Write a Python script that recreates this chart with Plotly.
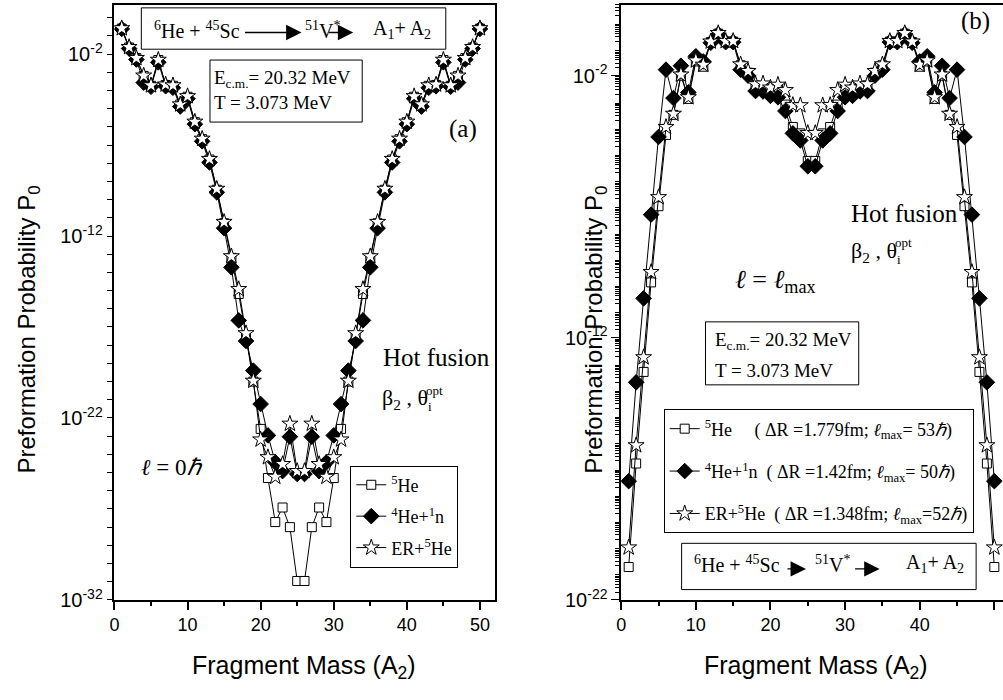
import plotly.graph_objects as go

W, H = 1003, 700
SERIF = "Liberation Serif, Times New Roman, serif"
SANS = "Liberation Sans, Arial, sans-serif"

# Fragment mass A2
fragment_mass = list(range(1, 51))

# ---- Panel (a): l = 0 hbar, preformation probability P0 ----
p0_a_5he = [2.5e-1, 2.3e-2, 6.0e-3, 6.3e-4, 1.8e-4, 4.7e-3, 2.0e-4, 1.8e-4, 1.7e-5, 4.5e-5,
            1.8e-6, 2.1e-7, 1.6e-8, 3.5e-10, 5.0e-12, 6.3e-14, 6.5e-16, 3.1e-18, 1.0e-20, 2.5e-23,
            5.0e-26, 1.9e-28, 1.2e-27, 1.0e-28, 1.1e-31, 1.1e-31, 1.0e-28, 1.2e-27, 1.9e-28, 5.0e-26,
            2.5e-23, 1.0e-20, 3.1e-18, 6.5e-16, 6.3e-14, 5.0e-12, 3.5e-10, 1.6e-8, 2.1e-7, 1.8e-6,
            4.5e-5, 1.7e-5, 1.8e-4, 2.0e-4, 4.7e-3, 1.8e-4, 6.3e-4, 6.0e-3, 2.3e-2, 2.5e-1]
p0_a_4he_1n = [2.4e-1, 2.0e-2, 5.0e-3, 2.7e-4, 1.6e-4, 3.5e-3, 1.7e-4, 1.4e-4, 1.3e-5, 3.5e-5,
               1.4e-6, 1.6e-7, 1.1e-8, 2.5e-10, 2.7e-12, 1.9e-14, 2.3e-17, 1.7e-18, 4.0e-20, 5.8e-22,
               1.1e-23, 3.7e-25, 1.2e-25, 9.3e-24, 8.3e-26, 8.3e-26, 9.3e-24, 1.2e-25, 3.7e-25, 1.1e-23,
               5.8e-22, 4.0e-20, 1.7e-18, 2.3e-17, 1.9e-14, 2.7e-12, 2.5e-10, 1.1e-8, 1.6e-7, 1.4e-6,
               3.5e-5, 1.3e-5, 1.4e-4, 1.7e-4, 3.5e-3, 1.6e-4, 2.7e-4, 5.0e-3, 2.0e-2, 2.4e-1]
p0_a_er_5he = [2.6e-1, 2.4e-2, 6.0e-3, 6.5e-4, 1.9e-4, 4.8e-3, 2.1e-4, 1.9e-4, 1.7e-5, 4.8e-5,
               1.9e-6, 2.2e-7, 1.7e-8, 3.9e-10, 5.9e-12, 7.6e-14, 1.2e-15, 4.5e-18, 1.1e-20, 6.5e-24,
               6.9e-25, 5.8e-26, 2.9e-25, 4.8e-23, 1.2e-25, 1.2e-25, 4.8e-23, 2.9e-25, 5.8e-26, 6.9e-25,
               6.5e-24, 1.1e-20, 4.5e-18, 1.2e-15, 7.6e-14, 5.9e-12, 3.9e-10, 1.7e-8, 2.2e-7, 1.9e-6,
               4.8e-5, 1.7e-5, 1.9e-4, 2.1e-4, 4.8e-3, 1.9e-4, 6.5e-4, 6.0e-3, 2.4e-2, 2.6e-1]

# ---- Panel (b): l = l_max ----
p0_b_5he = [1.8e-21, 1.6e-17, 5.0e-14, 1.3e-10, 1.05e-7, 5.5e-5, 3.2e-4, 1.0e-2, 1.3e-3, 3.5e-2,
            2.2e-2, 1.9e-1, 4.0e-1, 2.0e-1, 2.0e-1, 2.5e-2, 1.3e-2, 4.2e-3, 4.0e-3, 3.2e-3,
            3.5e-3, 7.9e-4, 1.1e-4, 6.3e-5, 5.6e-6, 5.6e-6, 6.3e-5, 1.1e-4, 7.9e-4, 3.5e-3,
            3.2e-3, 4.0e-3, 4.2e-3, 1.3e-2, 2.5e-2, 2.0e-1, 2.0e-1, 4.0e-1, 1.9e-1, 2.2e-2,
            3.5e-2, 1.3e-3, 1.0e-2, 3.2e-4, 5.5e-5, 1.05e-7, 1.3e-10, 5.0e-14, 1.6e-17, 1.8e-21]
p0_b_4he_1n = [3.4e-18, 2.0e-14, 3.2e-11, 5.0e-8, 4.6e-5, 1.7e-2, 1.4e-3, 2.4e-2, 2.3e-3, 5.5e-2,
               3.5e-2, 1.8e-1, 3.8e-1, 1.9e-1, 1.9e-1, 1.7e-2, 1.0e-2, 2.6e-3, 2.5e-3, 1.7e-3,
               1.5e-3, 4.5e-4, 6.3e-5, 3.4e-5, 3.5e-6, 3.5e-6, 3.4e-5, 6.3e-5, 4.5e-4, 1.5e-3,
               1.7e-3, 2.5e-3, 2.6e-3, 1.0e-2, 1.7e-2, 1.9e-1, 1.9e-1, 3.8e-1, 1.8e-1, 3.5e-2,
               5.5e-2, 2.3e-3, 2.4e-2, 1.4e-3, 1.7e-2, 4.6e-5, 5.0e-8, 3.2e-11, 2.0e-14, 3.4e-18]
p0_b_er_5he = [1.0e-20, 7.9e-17, 1.8e-13, 3.2e-10, 2.3e-7, 1.1e-4, 3.5e-4, 1.1e-2, 1.5e-3, 3.8e-2,
               2.6e-2, 2.0e-1, 4.2e-1, 2.1e-1, 2.1e-1, 2.7e-2, 1.5e-2, 4.7e-3, 5.0e-3, 3.5e-3,
               4.5e-3, 2.8e-3, 7.6e-4, 7.4e-4, 6.5e-5, 6.5e-5, 7.4e-4, 7.6e-4, 2.8e-3, 4.5e-3,
               3.5e-3, 5.0e-3, 4.7e-3, 1.5e-2, 2.7e-2, 2.1e-1, 2.1e-1, 4.2e-1, 2.0e-1, 2.6e-2,
               3.8e-2, 1.5e-3, 1.1e-2, 3.5e-4, 1.1e-4, 2.3e-7, 3.2e-10, 1.8e-13, 7.9e-17, 1.0e-20]

# Legend names
names_a = ["<sup>5</sup>He", "<sup>4</sup>He+<sup>1</sup>n", "ER+<sup>5</sup>He"]
names_b = [
    "<sup>5</sup>He\u00a0\u00a0\u00a0\u00a0\u00a0( \u0394R =1.779fm; <i>\u2113</i><sub>max</sub>= 53<i>\u210f</i>)",
    "<sup>4</sup>He+<sup>1</sup>n\u00a0 ( \u0394R =1.42fm; <i>\u2113</i><sub>max</sub>= 50<i>\u210f</i>)",
    "ER+<sup>5</sup>He\u00a0 ( \u0394R =1.348fm; <i>\u2113</i><sub>max</sub>=52<i>\u210f</i>)",
]

# Axis ticks
x_tick_vals = [0, 10, 20, 30, 40, 50]
x_tick_text = ["0", "10", "20", "30", "40", "50"]
y_label_vals_a = [1e-32, 1e-22, 1e-12, 1e-2]
y_label_text_a = ["10<sup>-32</sup>", "10<sup>-22</sup>", "10<sup>-12</sup>", "10<sup>-2</sup>"]
y_label_vals_b = [1e-22, 1e-12, 1e-2]
y_label_text_b = ["10<sup>-22</sup>", "10<sup>-12</sup>", "10<sup>-2</sup>"]

# unlabelled tick positions: every decade, plus 2..9 sub-decades on panel (b)
ya_decades = [10.0 ** e for e in range(-32, 1) if 10.0 ** e not in y_label_vals_a]
yb_decades = [10.0 ** e for e in range(-22, 1)]
yb_subdecades = [m * 10.0 ** e for e in range(-22, 1) for m in range(2, 10) if m * 10.0 ** e <= 5.0]


def px(x):
    return x / W


def py(y):
    return 1 - y / H


styles = [
    dict(symbol="square", size=9, color="white"),
    dict(symbol="diamond", size=12, color="black"),
    dict(symbol="star", size=12, color="white"),
]

fig = go.Figure()
for data, name, st, i in zip([p0_a_5he, p0_a_4he_1n, p0_a_er_5he], names_a, styles, range(3)):
    fig.add_trace(go.Scatter(
        x=fragment_mass, y=data, name=name, mode="lines+markers",
        line=dict(color="black", width=1),
        marker=dict(symbol=st["symbol"], size=st["size"], color=st["color"],
                    line=dict(color="black", width=1)),
        xaxis="x", yaxis="y", legend="legend", legendgroup=f"a{i}"))
for data, name, st, i in zip([p0_b_5he, p0_b_4he_1n, p0_b_er_5he], names_b, styles, range(3)):
    fig.add_trace(go.Scatter(
        x=fragment_mass, y=data, name=name, mode="lines+markers",
        line=dict(color="black", width=1),
        marker=dict(symbol=st["symbol"], size=st["size"], color=st["color"],
                    line=dict(color="black", width=1)),
        xaxis="x2", yaxis="y2", legend="legend2", legendgroup=f"b{i}"))

y_dom = [py(609.5), py(5)]
common_x = dict(showline=True, linecolor="black", linewidth=1.5, ticks="outside",
                tickmode="array", tickvals=x_tick_vals, ticktext=x_tick_text,
                ticklen=8, tickwidth=1.5, tickcolor="black",
                minor=dict(dtick=5, tick0=0, ticks="outside", ticklen=4, tickwidth=1.5, tickcolor="black"),
                tickfont=dict(family=SANS, size=18, color="black"),
                showgrid=False, zeroline=False)
common_y = dict(type="log", showline=True, linecolor="black", linewidth=1.5, ticks="outside",
                tickmode="array", tickwidth=1.2, tickcolor="black",
                tickfont=dict(family=SANS, size=20, color="black"),
                showgrid=False, zeroline=False)

fig.update_layout(
    width=W, height=H, margin=dict(l=0, r=0, t=0, b=0),
    paper_bgcolor="white", plot_bgcolor="white",
    xaxis=dict(domain=[px(110), px(492)], range=[0, 52], anchor="y", mirror=True, **common_x),
    yaxis=dict(domain=y_dom, range=[-32, 0.7], anchor="x", mirror=True,
               tickvals=y_label_vals_a, ticktext=y_label_text_a, ticklen=6,
               minor=dict(tickmode="array", tickvals=ya_decades, ticks="outside", ticklen=6,
                          tickwidth=1.2, tickcolor="black"),
               **common_y),
    xaxis2=dict(domain=[px(619.3), 1.0], range=[0, (W - 619.3) / 7.5], anchor="y2", mirror=True, **common_x),
    yaxis2=dict(domain=y_dom, range=[-22, 0.7], anchor="x2", mirror=False,
                tickvals=y_label_vals_b, ticktext=y_label_text_b, ticklen=8,
                minor=dict(tickmode="array", tickvals=yb_subdecades, ticks="outside", ticklen=4,
                           tickwidth=1, tickcolor="black"),
                **common_y),
    # decade ticks of panel (b) without labels
    yaxis3=dict(type="log", overlaying="y2", anchor="x2", side="left", range=[-22, 0.7],
                showline=False, showticklabels=False, showgrid=False, zeroline=False,
                tickmode="array", tickvals=yb_decades, ticks="outside", ticklen=8,
                tickwidth=1.2, tickcolor="black"),
    legend=dict(x=px(347), y=py(473), xanchor="left", yanchor="top", bgcolor="white",
                bordercolor="black", borderwidth=1, font=dict(family=SERIF, size=18, color="black"),
                tracegroupgap=5, traceorder="grouped", itemwidth=30),
    legend2=dict(x=px(662), y=py(416), xanchor="left", yanchor="top", bgcolor="white",
                 bordercolor="black", borderwidth=1, font=dict(family=SERIF, size=18, color="black"),
                 tracegroupgap=16, traceorder="grouped", itemwidth=30),
    showlegend=True,
)

annotations = []


def text(x, y, s, size, family=SERIF, xanchor="left", yanchor="middle", angle=0):
    annotations.append(dict(x=px(x), y=py(y), xref="paper", yref="paper", text=s, showarrow=False,
                            xanchor=xanchor, yanchor=yanchor, textangle=angle,
                            font=dict(family=family, size=size, color="black")))


def arrow(x0, x1, y):
    annotations.append(dict(x=px(x1), y=py(y), xref="paper", yref="paper", ax=-(x1 - x0), ay=0,
                            axref="pixel", ayref="pixel", text="", showarrow=True,
                            arrowhead=2, arrowsize=2.2, arrowwidth=1.4, arrowcolor="black"))


shapes = []


def box(x0, y0, x1, y1):
    shapes.append(dict(type="rect", xref="paper", yref="paper", x0=px(x0), x1=px(x1),
                       y0=py(y1), y1=py(y0), line=dict(color="black", width=1)))


# Axis titles
text(24, 335, "Preformation Probability P<sub>0</sub>", 24, SANS, "center", "middle", -90)
text(594, 335, "Preformation Probability P<sub>0</sub>", 24, SANS, "center", "middle", -90)
text(301, 678, "Fragment Mass (A<sub>2</sub>)", 25, SANS, "center", "middle")
text(815, 678, "Fragment Mass (A<sub>2</sub>)", 25, SANS, "center", "middle")

# Panel (a) annotations
box(137, 8, 443, 50)
text(148, 30, "<sup>6</sup>He + <sup>45</sup>Sc", 20)
arrow(240, 298, 33)
text(299, 30, "<sup>51</sup>V<sup>*</sup>", 20)
arrow(324, 350, 33)
text(368, 30, "A<sub>1</sub>+ A<sub>2</sub>", 20)
box(206, 61, 359, 124)
text(208, 80, "E<sub>c.m.</sub>= 20.32 MeV", 19)
text(208, 104, "T = 3.073 MeV", 19)
text(460, 131, "(a)", 25, SERIF, "center")
text(378, 363, "Hot fusion", 25)
text(377, 405, "\u03b2<sub>2</sub> , \u03b8", 22)
text(421, 397, "opt", 13)
text(423, 413, "i", 13)
text(135, 475, "<i>\u2113</i> = 0<i>\u210f</i>", 23)

# Panel (b) annotations
text(975, 21, "(b)", 25, SERIF, "center")
text(848, 217, "Hot fusion", 25)
text(848, 256, "\u03b2<sub>2</sub> , \u03b8", 22)
text(892, 246, "opt", 13)
text(894, 264, "i", 13)
text(732, 285, "<i>\u2113</i> = <i>\u2113</i><sub>max</sub>", 26)
box(704, 327, 858, 391)
text(712, 346, "E<sub>c.m.</sub>= 20.32 MeV", 19)
text(712, 376, "T = 3.073 MeV", 19)
box(680, 552, 976, 599)
text(690, 573, "<sup>6</sup>He + <sup>45</sup>Sc", 20)
arrow(785, 805, 578)
text(812, 573, "<sup>51</sup>V<sup>*</sup>", 20)
arrow(853, 879, 578)
text(904, 573, "A<sub>1</sub>+ A<sub>2</sub>", 20)

fig.update_layout(annotations=annotations, shapes=shapes)
fig.write_html("out.html")
